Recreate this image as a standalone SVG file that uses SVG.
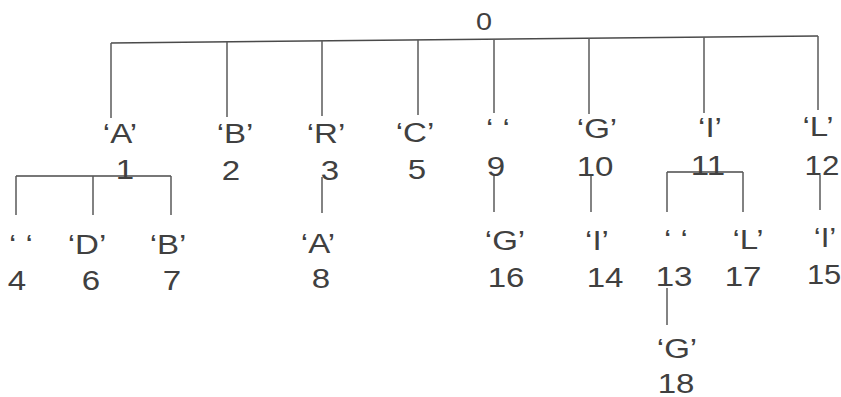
<svg xmlns="http://www.w3.org/2000/svg" width="841" height="397" viewBox="0 0 841 397">
<style>
  text { font-family: "Liberation Sans", Arial, sans-serif; font-size: 28px; fill: #404040; text-anchor: middle; }
  .root { font-size: 24px; }
  .c path { fill: none; stroke: #5a5a5a; stroke-width: 1.5; }
  .c .h { stroke: #4a4a4a; }
</style>
<rect width="841" height="397" fill="#ffffff"/>
<g class="c" id="connectors">
  <path class="h" d="M111 43 L818 36"/>
  <path d="M111 43 V118"/>
  <path d="M227 42 V117"/>
  <path d="M322 41 V116"/>
  <path d="M418 40 V115"/>
  <path d="M494 39 V113"/>
  <path d="M589 38 V114"/>
  <path d="M704 37 V113"/>
  <path d="M818 36 V110"/>
  <path class="h" d="M16 176 H171"/>
  <path d="M16 176 V215 M93 176 V215 M171 176 V215"/>
  <path d="M322 177 V213"/>
  <path d="M494 175 V212"/>
  <path d="M591 175 V212"/>
  <path class="h" d="M667 172 H743"/>
  <path d="M667 172 V212 M743 172 V212"/>
  <path d="M820 175 V210"/>
  <path d="M667 288 V325"/>
</g>
<g id="n0"><text class="root" transform="translate(484 30) scale(1.2 1)">0</text></g>
<g id="n1"><text transform="translate(120 143) scale(1.18 1)">‘A’</text><text transform="translate(125 179) scale(1.18 1)">1</text></g>
<g id="n2"><text transform="translate(235 143) scale(1.18 1)">‘B’</text><text transform="translate(231 180) scale(1.18 1)">2</text></g>
<g id="n3"><text transform="translate(326 143) scale(1.18 1)">‘R’</text><text transform="translate(330 180) scale(1.18 1)">3</text></g>
<g id="n5"><text transform="translate(415 142) scale(1.18 1)">‘C’</text><text transform="translate(417 179) scale(1.18 1)">5</text></g>
<g id="n9"><text transform="translate(498 138) scale(1.18 1)">‘ ‘</text><text transform="translate(496 176) scale(1.18 1)">9</text></g>
<g id="n10"><text transform="translate(597 138) scale(1.18 1)">‘G’</text><text transform="translate(595 176) scale(1.18 1)">10</text></g>
<g id="n11"><text transform="translate(710 137) scale(1.18 1)">‘I’</text><text transform="translate(708 175) scale(1.18 1)">11</text></g>
<g id="n12"><text transform="translate(818 136) scale(1.18 1)">‘L’</text><text transform="translate(822 175) scale(1.12 1)">12</text></g>
<g id="n4"><text transform="translate(21 254) scale(1.18 1)">‘ ‘</text><text transform="translate(17 290) scale(1.18 1)">4</text></g>
<g id="n6"><text transform="translate(87 254) scale(1.18 1)">‘D’</text><text transform="translate(91 290) scale(1.18 1)">6</text></g>
<g id="n7"><text transform="translate(168 254) scale(1.18 1)">‘B’</text><text transform="translate(172 290) scale(1.18 1)">7</text></g>
<g id="n8"><text transform="translate(318 253) scale(1.18 1)">‘A’</text><text transform="translate(321 288) scale(1.18 1)">8</text></g>
<g id="n16"><text transform="translate(505 250) scale(1.18 1)">‘G’</text><text transform="translate(506 287) scale(1.18 1)">16</text></g>
<g id="n14"><text transform="translate(597 250) scale(1.18 1)">‘I’</text><text transform="translate(605 287) scale(1.18 1)">14</text></g>
<g id="n13"><text transform="translate(676 249) scale(1.18 1)">‘ ‘</text><text transform="translate(674 286) scale(1.18 1)">13</text></g>
<g id="n17"><text transform="translate(748 249) scale(1.18 1)">‘L’</text><text transform="translate(743 286) scale(1.18 1)">17</text></g>
<g id="n15"><text transform="translate(825 247) scale(1.12 1)">‘I’</text><text transform="translate(824 284) scale(1.1 1)">15</text></g>
<g id="n18"><text transform="translate(677 358) scale(1.18 1)">‘G’</text><text transform="translate(676 393) scale(1.18 1)">18</text></g>
</svg>
